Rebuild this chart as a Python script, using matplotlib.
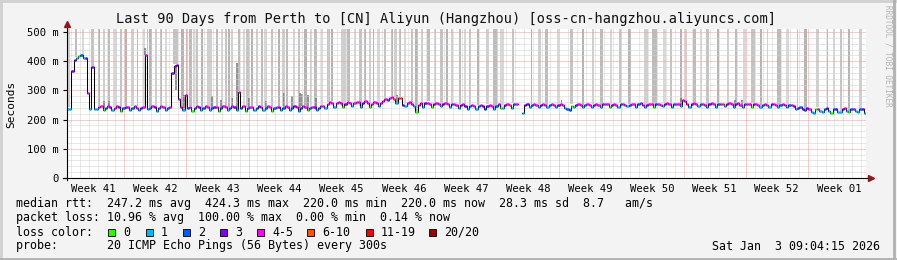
import numpy as np
import matplotlib
matplotlib.use('Agg')
import matplotlib.pyplot as plt
from matplotlib.collections import LineCollection
from matplotlib.lines import Line2D

W, H = 897, 260
plt.rcParams['font.family'] = 'DejaVu Sans Mono'

title = 'Last 90 Days from Perth to [CN] Aliyun (Hangzhou) [oss-cn-hangzhou.aliyuncs.com]'
weeks = ['Week 41', 'Week 42', 'Week 43', 'Week 44', 'Week 45', 'Week 46', 'Week 47',
         'Week 48', 'Week 49', 'Week 50', 'Week 51', 'Week 52', 'Week 01']
y_ticks = [0, 100, 200, 300, 400, 500]
y_labels = ['0', '100 m', '200 m', '300 m', '400 m', '500 m']

# median rtt (ms), four samples per day
nan = np.nan
median_rows = [
    [238, 237, 365, 405], [412, 418, 421, 412], [410, 290, 238, 380], [238, 236, 244, 246],
    [232, 241, 246, 243], [233, 240, 245, 242], [231, 239, 244, 243], [233, 241, 245, 241],
    [232, 240, 244, 420], [238, 240, 246, 242], [231, 241, 245, 243], [233, 240, 244, 360],
    [385, 387, 272, 244], [232, 283, 240, 244], [231, 240, 245, 242], [233, 241, 246, 243],
    [232, 239, 244, 242], [231, 240, 246, 243], [233, 241, 245, 242], [232, 293, 241, 245],
    [230, 240, 244, 242], [233, 241, 246, 243], [232, 240, 245, 242], [231, 239, 244, 243],
    [233, 241, 245, 242], [232, 240, 246, 243], [231, 241, 245, 242], [233, 240, 244, 243],
    [232, 241, 246, 248], [240, 255, 260, 258], [244, 256, 261, 258], [243, 255, 260, 257],
    [245, 257, 261, 259], [244, 256, 262, 258], [243, 255, 260, 257], [245, 258, 263, 270],
    [268, 274, 276, 272], [258, 275, 274, 250], [248, 256, 259, 255], [245, 226, 250, 257],
    [244, 256, 258, 255], [243, 255, 258, 254], [245, 255, 257, 253], [243, 252, 255, 250],
    [240, 250, 254, 248], [238, 246, 250, 246], [237, 247, 251, 245], [238, 248, 250, 246],
    [236, 245, 252, 240], [240, 250, 253, 249], [241, 252, 253, nan], [nan, 224, 249, 252],
    [244, 250, 253, 251], [242, 249, 252, 250], [243, 250, 254, 251], [244, 251, 253, 249],
    [240, 238, 232, 248], [243, 250, 253, 251], [244, 251, 254, 250], [243, 250, 253, 251],
    [244, 252, 255, 252], [243, 251, 254, 250], [244, 252, 255, 251], [245, 251, 254, 252],
    [243, 252, 256, 251], [244, 251, 255, 252], [243, 252, 254, 250], [245, 253, 256, 252],
    [244, 252, 255, 253], [246, 268, 262, 252], [244, 253, 256, 252], [245, 252, 255, 251],
    [243, 253, 256, 252], [244, 252, 255, 253], [245, 253, 257, 252], [243, 252, 256, 251],
    [244, 253, 255, 252], [243, 252, 254, 251], [244, 251, 254, 250], [243, 252, 255, 251],
    [244, 251, 253, 249], [242, 249, 251, 245], [238, 240, 244, 236], [233, 240, 236, 226],
    [224, 236, 238, 228], [226, 235, 240, 229], [224, 237, 238, 226], [227, 236, 240, 228],
    [225, 238, 236, 229], [226, 237, 235, 224],
]
# loss bucket per sample (index into loss_colors)
loss_rows = [
    '1133', '1021', '3413', '1144', '0243', '1443', '0234', '1244', '1344', '1243',
    '1244', '1243', '3344', '1424', '0243', '1244', '1234', '0244', '1243', '1424',
    '0244', '1234', '1244', '0243', '1244', '1234', '1244', '0243', '1244', '1444',
    '1444', '0344', '1444', '1344', '0444', '1444', '2445', '1453', '1444', '1044',
    '1344', '0344', '1344', '1244', '1343', '1244', '1243', '2344', '1240', '1345',
    '1245', '1133', '1244', '1344', '1244', '1344', '1220', '1344', '1244', '1344',
    '1244', '0344', '1244', '1344', '1244', '1344', '0244', '1344', '1244', '1444',
    '1344', '1244', '1344', '1245', '1344', '1344', '1244', '0344', '1244', '1344',
    '1244', '1243', '1323', '2341', '1041', '1231', '0231', '1341', '0241', '1231',
]
loss_colors = ['#26ff00', '#00b8ff', '#0059ff', '#7e00ff', '#ff00ff',
               '#ff5500', '#ff0000', '#a10000']
loss_labels = ['0', '1', '2', '3', '4-5', '6-10', '11-19', '20/20']

# full height smoke (day, span in days)
smoke_days = [0.19, 1.01, 1.76, 2.88, 3.63, 4.19, 4.76, 5.39, 6.07, 6.63, 7.38, 7.94,
              8.69, 9.06, 9.44, 10.0, 10.56, 11.12, 12.25, 13.0, 13.56, 13.93, 14.31,
              14.68, 15.24, 16.07, 16.93, 17.49, 17.87, 18.24, 18.61, 19.36, 19.93,
              20.3, 20.86, 21.42, 21.99, 22.36, 23.1, 23.86, 24.42, 24.8, 25.54, 26.1,
              26.85, 27.42, 27.98, 28.73, 29.48, 29.85, 31.16, 31.72, 32.47, 33.03,
              33.6, 34.16, 34.53, 35.09, 35.84, 36.59, 36.97, 37.53, 38.09, 38.84,
              39.4, 39.96, 40.71, 41.46, 42.21, 42.77, 43.33, 44.27, 44.83, 45.39,
              46.33, 47.34, 48.2, 49.0, 50.26, 52.32, 53.25, 54.0, 55.32, 56.82,
              58.13, 59.25, 60.19, 61.31, 62.25, 63.37, 65.24, 66.18, 67.3, 68.05,
              69.17, 69.74, 70.67, 71.42, 72.17, 73.3, 74.42, 75.35, 76.29, 77.3,
              78.16, 78.91, 80.22, 81.16, 82.28, 83.22, 84.53, 85.66, 86.4, 87.15,
              88.09, 89.4]
smoke_span = [0.2, 0.25, 0.2, 0.3, 0.2, 0.25, 0.2, 0.5, 0.25, 0.2, 0.3, 0.2,
              0.25, 0.2, 0.3, 0.2, 0.25, 0.2, 0.55, 0.25, 0.2, 0.3, 0.2,
              0.25, 0.2, 0.6, 0.25, 0.2, 0.2, 0.3, 0.2, 0.25, 0.2,
              0.3, 0.2, 0.25, 0.2, 0.3, 0.25, 0.2, 0.3, 0.2, 0.25, 0.2,
              0.3, 0.2, 0.25, 0.2, 0.3, 0.2, 0.5, 0.25, 0.2, 0.3,
              0.2, 0.25, 0.2, 0.3, 0.25, 0.2, 0.3, 0.2, 0.25, 0.2,
              0.3, 0.2, 0.25, 0.2, 0.3, 0.2, 0.25, 0.2, 0.3, 0.25,
              0.25, 0.3, 0.5, 0.55, 0.25, 0.2, 0.3, 0.25, 0.2, 0.3,
              0.25, 0.2, 0.3, 0.2, 0.25, 0.35, 0.5, 0.5, 0.25, 0.2,
              0.3, 0.2, 0.25, 0.2, 0.3, 0.2, 0.25, 0.2, 0.3, 0.45,
              0.25, 0.2, 0.5, 0.25, 0.2, 0.3, 0.25, 0.2, 0.3, 0.2,
              0.25, 0.3]
smoke_tone = ['#cfcfcf', '#bcbcbc', '#d8d8d8', '#c4c4c4', '#b4b4b4']

# partial smoke above the median (day, top ms)
puff_days = [4.2, 4.76, 8.75, 12.3, 13.2, 16.3, 17.3, 18.6, 19.2, 20.5, 22.4, 24.4,
             25.3, 26.2, 26.5, 27.2, 28.1, 37.2, 55.7, 69.2, 75.2, 76.0]
puff_top = [262, 262, 445, 300, 285, 280, 267, 273, 393, 273, 262, 290,
            280, 290, 288, 285, 273, 284, 266, 275, 266, 266]

median = np.array(median_rows, dtype=float).ravel()
loss = np.array([int(c) for row in loss_rows for c in row])
t = np.arange(len(median)) / 4.0

fig = plt.figure(figsize=(W / 100, H / 100), dpi=100, facecolor='#f3f3f3')
ax = fig.add_axes([67 / W, (H - 178) / H, 799 / W, 149.5 / H])
ax.set_facecolor('white')
ax.set_xlim(0, 90)
ax.set_ylim(0, 512)
for s in ax.spines.values():
    s.set_visible(False)


def med_at(d):
    i = min(int(d * 4), len(median) - 1)
    v = median[i]
    return 240.0 if np.isnan(v) else v


for k, (d, sp) in enumerate(zip(smoke_days, smoke_span)):
    base = med_at(d) + 4
    ax.bar(d, 512 - base, width=sp, bottom=base, color=smoke_tone[k % 5],
           linewidth=0, zorder=1)
for d, top in zip(puff_days, puff_top):
    base = med_at(d)
    ax.bar(d, top - base, width=0.22, bottom=base, color='#7a7a7a',
           linewidth=0, zorder=2, alpha=0.8)

# grid
dotted = (0, (1, 1))
for v in range(20, 512, 20):
    if v % 100:
        ax.axhline(v, color='#d2d2d2', lw=0.72, ls=dotted, zorder=3)
week_bounds = [6.45 + 7 * k for k in range(12)]
for d in np.arange(0.45, 90, 1.0):
    if min(abs(d - b) for b in week_bounds) > 0.1:
        ax.axvline(d, color='#d2d2d2', lw=0.72, ls=dotted, zorder=3)
for v in y_ticks[1:]:
    ax.axhline(v, color='#f49a9a', lw=0.72, ls=dotted, zorder=3)
for b in week_bounds:
    ax.axvline(b, color='#f49a9a', lw=0.72, ls=dotted, zorder=3)

# median line: black steps, coloured by loss
ax.plot(np.append(t, 90), np.append(median, median[-1]), drawstyle='steps-post',
        color='black', lw=0.75, zorder=4)
segs, cols = [], []
for ti, v, l in zip(t, median, loss):
    if not np.isnan(v):
        segs.append([(ti, v), (ti + 0.25, v)])
        cols.append(loss_colors[l])
ax.add_collection(LineCollection(segs, colors=cols, linewidths=1.8, zorder=5))

# axes and arrows
ax.plot([-0.4, 90.3], [0, 0], color='black', lw=0.8, clip_on=False, zorder=6)
ax.plot([0, 0], [-6, 522], color='black', lw=0.8, clip_on=False, zorder=6)
ax.plot(90.55, 0, marker='>', color='#8b1a1a', ms=4.5, clip_on=False, zorder=7)
ax.plot(0, 527, marker='^', color='#8b1a1a', ms=4.5, clip_on=False, zorder=7)

ax.set_yticks(y_ticks, labels=y_labels)
ax.set_xticks([2.95 + 7 * k for k in range(len(weeks))], labels=weeks)
ax.tick_params(axis='y', length=3, width=0.8, pad=3, labelsize=7.6)
ax.tick_params(axis='x', length=0, pad=4, labelsize=7.6)

# texts
def px(x, y):
    return x / W, 1 - y / H


fig.text(*px(446, 19), title, ha='center', va='center', fontsize=9.8, color='#111111')
fig.text(*px(11, 104), 'Seconds', rotation=90, ha='center', va='center', fontsize=8)
fig.text(*px(888, 5), 'RRDTOOL / TOBI OETIKER', rotation=270, ha='center', va='top',
         fontsize=5.5, color='#b4b4b4')

fs = 8.4
fig.text(*px(16, 204), 'median rtt:  247.2 ms avg  424.3 ms max  220.0 ms min  '
         '220.0 ms now  28.3 ms sd  8.7   am/s', va='center', fontsize=fs)
fig.text(*px(16, 218), 'packet loss: 10.96 % avg  100.00 % max  0.00 % min  0.14 % now',
         va='center', fontsize=fs)
fig.text(*px(16, 232), 'loss color:', va='center', fontsize=fs)
box_x = [108, 146, 183, 220, 257, 307, 366, 429]
for bx, c, lab in zip(box_x, loss_colors, loss_labels):
    fig.patches.append(plt.Rectangle(px(bx, 236), 7 / W, 7 / H, transform=fig.transFigure,
                                     facecolor=c, edgecolor='black', lw=0.6))
    fig.text(*px(bx + 15, 232), lab, va='center', fontsize=fs)
fig.text(*px(16, 246), 'probe:       20 ICMP Echo Pings (56 Bytes) every 300s',
         va='center', fontsize=fs)
fig.text(*px(880, 246), 'Sat Jan  3 09:04:15 2026', ha='right', va='center', fontsize=fs)

# frame shading
for xs, ys, c in [([0, 1], [0.996, 0.996], '#d0d0d0'), ([0.001, 0.001], [0, 1], '#d0d0d0'),
                  ([0, 1], [0.005, 0.005], '#b0b0b0'), ([0.997, 0.997], [0, 1], '#b0b0b0')]:
    fig.add_artist(Line2D(xs, ys, transform=fig.transFigure, color=c, lw=2))

fig.savefig('out.png', dpi=100, facecolor=fig.get_facecolor())
